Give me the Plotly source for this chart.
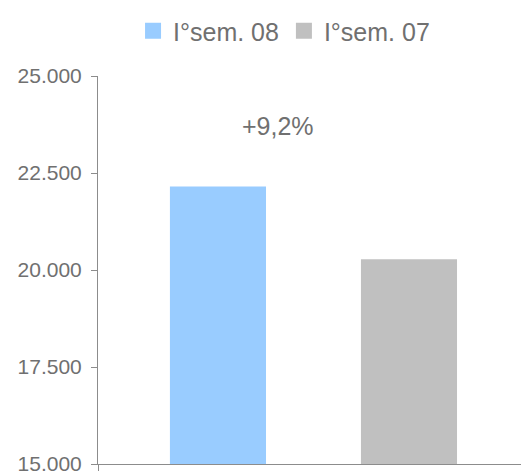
import plotly.graph_objects as go

series_names = ["I°sem. 08", "I°sem. 07"]
values = [22150, 20280]
colors = ["#99CCFF", "#C0C0C0"]
y_ticks = [15000, 17500, 20000, 22500, 25000]

growth = (values[0] / values[1] - 1) * 100
growth_label = ("+%.1f%%" % growth).replace(".", ",")

FONT = "Liberation Sans, Arial, sans-serif"
TXT = "#707070"
AX = "#8c8c8c"

fig = go.Figure()
for name, v, c in zip(series_names, values, colors):
    fig.add_trace(go.Bar(x=[name], y=[v], name=name, marker_color=c,
                         marker_line_width=0, width=0.503,
                         legendgroup=name, showlegend=False))
# legend entries with larger square swatches
for name, c in zip(series_names, colors):
    fig.add_trace(go.Scatter(x=[None], y=[None], mode="markers", name=name,
                             legendgroup=name,
                             marker=dict(symbol="square", size=18, color=c)))

# the page body adds an 8px offset, so the figure is 8px smaller
xr = [-0.628, 1.623]
fig.update_layout(
    width=521, height=466,
    margin=dict(l=90, r=1, t=68, b=10, autoexpand=False),
    paper_bgcolor="white", plot_bgcolor="white",
    barmode="overlay",
    separators=",.",
    showlegend=True,
    legend=dict(orientation="h", xref="container", yref="container",
                x=0.24, y=1.0, xanchor="left", yanchor="top",
                font=dict(family=FONT, size=25, color=TXT),
                itemwidth=30, tracegroupgap=0),
    xaxis=dict(range=xr, showticklabels=False, showline=True, linecolor=AX,
               linewidth=1, ticks="outside", tickvals=xr, ticklen=6,
               tickcolor=AX, showgrid=False, zeroline=False, fixedrange=True,
               automargin=False),
    yaxis=dict(range=[15000, 25000], tickvals=y_ticks, tickformat=",.0f",
               showline=True, linecolor=AX, linewidth=1, ticks="outside",
               ticklen=6, tickcolor=AX, showgrid=False, zeroline=False,
               ticklabelstandoff=5, automargin=False,
               ticklabeloverflow="allow",
               tickfont=dict(family=FONT, size=21, color=TXT)),
    annotations=[dict(x=0.419, xref="paper", y=23700, yref="y",
                      text=growth_label, showarrow=False,
                      font=dict(family=FONT, size=25, color=TXT))],
)

fig.write_html("out.html")
